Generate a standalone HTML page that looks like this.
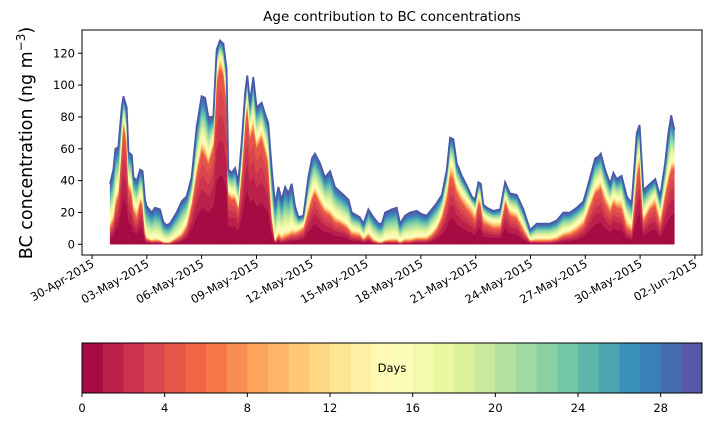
<!DOCTYPE html>
<html><head><meta charset="utf-8"><style>
body{margin:0;background:#fff}
svg{display:block;font-family:"DejaVu Sans","Liberation Sans",sans-serif}
</style></head><body>
<svg id="c" width="711" height="425" viewBox="0 0 711 425">
<text x="392" y="21" text-anchor="middle" font-size="13.5">Age contribution to BC concentrations</text>
<text transform="translate(32,143) rotate(-90)" text-anchor="middle" font-size="17.5">BC concentration (ng m<tspan dy="-7" font-size="12">−3</tspan><tspan dy="7">)</tspan></text>
<g id="layers"></g>
<rect x="82" y="30" width="620" height="225" fill="none" stroke="#000" stroke-width="1"/>
<g id="axes"></g>
<g id="cbar"></g>
</svg>
<script>
// days since 30-Apr-2015, total BC, cumulative up to age 14 d, cumulative up to age 5 d
const days=[0.99,1.17,1.28,1.44,1.62,1.72,1.90,2.0,2.18,2.27,2.45,2.63,2.77,2.90,2.99,3.27,3.45,3.72,3.90,4.08,4.27,4.63,4.91,5.18,5.45,5.73,6.0,6.19,6.37,6.64,6.82,7.0,7.19,7.37,7.46,7.65,7.83,8.01,8.2,8.38,8.5,8.65,8.83,9.01,9.29,9.47,9.65,9.84,10.02,10.2,10.38,10.57,10.75,10.93,11.11,11.3,11.57,11.84,12.04,12.2,12.48,12.75,13.03,13.3,13.58,13.86,14.04,14.22,14.66,14.86,15.13,15.40,15.68,15.86,16.04,16.41,16.68,16.86,17.14,17.41,17.77,18.05,18.32,18.6,18.87,19.15,19.42,19.6,19.78,19.96,20.24,20.51,20.79,20.97,21.15,21.28,21.42,21.61,21.97,22.34,22.61,22.88,23.25,23.61,23.98,24.34,25.07,25.44,25.8,26.17,26.53,26.9,27.17,27.54,27.72,27.85,28.08,28.36,28.54,28.72,28.99,29.27,29.54,29.82,29.97,30.18,30.55,30.83,31.1,31.37,31.55,31.7,31.88];
const total=[38,47,60,61,85,93,86,58,56,42,40,47,46,28,24,20,23,22,14,12,13,20,27,30,42,74,93,92,80,80,122,128,126,110,47,45,48,39,65,95,106,89,105,86,89,82,76,47,25,36,28,36,32,38,24,17,18,42,54,57,51,42,46,36,33,30,28,20,17,13,22,17,13,13,20,22,23,13,18,20,21,19,18,22,26,31,47,67,66,51,43,37,30,28,39,38,25,23,21,22,39,32,31,22,9,13,13,15,20,20,23,27,38,54,55,57,47,38,45,41,43,30,26,70,75,34,38,41,30,51,70,81,72];
const upTo14=[14,20,30,35,65,80,68,40,36,26,22,30,28,10,5,3,4,3,2,1.5,2,5,8,14,28,50,65,62,55,66,108,118,112,95,34,32,32,25,50,80,92,72,80,66,72,64,55,20,3,8,6,8,8,10,9,10,12,25,33,36,30,24,22,18,16,14,12,9,8,4,8,4,2,2,3,4,4,2,4,4,5,5,5,8,12,20,35,50,48,38,32,28,24,20,30,28,18,16,14,14,30,22,20,12,3,4,4,5,8,9,12,16,25,36,38,40,32,25,30,28,28,16,12,50,58,18,26,30,18,35,45,52,52];
const upTo5=[10,14,24,30,60,75,62,35,30,20,16,26,24,6,3,2,2,2,1,1,1,3,5,10,24,44,58,55,50,60,100,110,106,88,30,28,28,22,45,75,86,66,72,60,66,58,50,15,2,5,3,4,5,6,6,7,9,20,28,32,25,20,18,14,13,11,9,6,5,3,5,2,1,1,2,2,2,1,2,2,3,3,3,5,9,16,28,42,40,32,26,22,18,15,26,24,13,12,10,10,26,18,16,8,2,2,2,3,5,6,8,12,20,32,33,35,26,20,25,23,22,10,8,42,50,14,22,24,12,30,40,46,48];
const yTicks=[0,20,40,60,80,100,120];
const xTickDays=[0,3,6,9,12,15,18,21,24,27,30,33];
const xTickLabels=["30-Apr-2015","03-May-2015","06-May-2015","09-May-2015","12-May-2015","15-May-2015","18-May-2015","21-May-2015","24-May-2015","27-May-2015","30-May-2015","02-Jun-2015"];
const cbTicks=[0,4,8,12,16,20,24,28];
const nAges=30;

const X=d=>92+d*18.27, Y=v=>244.3-v*1.592;
const NS="http://www.w3.org/2000/svg";
const n=Math.min(days.length,total.length,upTo14.length,upTo5.length);
const spec=["#9e0142","#d53e4f","#f46d43","#fdae61","#fee08b","#ffffbf","#e6f598","#abdda4","#66c2a5","#3288bd","#5e4fa2"];
function hx(h){return [1,3,5].map(i=>parseInt(h.substr(i,2),16));}
function cmap(t){const p=t*10,i=Math.min(9,Math.floor(p)),f=p-i,a=hx(spec[i]),b=hx(spec[i+1]);
 return "rgb("+a.map((v,j)=>Math.round(v+(b[j]-v)*f)).join(",")+")";}
const youngSplit=[0,0.4,0.6,0.75,0.88,1];
function cum(i,k){const t=total[i],a=upTo14[i],b=upTo5[i];
 if(k<=5)return b*youngSplit[k]; if(k<=14)return b+(a-b)*(k-5)/9; return a+(t-a)*(k-14)/16;}
const L=document.getElementById("layers");
for(let k=0;k<nAges;k++){
 let pts=[];
 for(let i=0;i<n;i++)pts.push(X(days[i]).toFixed(1)+","+Y(cum(i,k+1)).toFixed(1));
 for(let i=n-1;i>=0;i--)pts.push(X(days[i]).toFixed(1)+","+Y(cum(i,k)).toFixed(1));
 const p=document.createElementNS(NS,"polygon");
 p.setAttribute("points",pts.join(" "));
 p.setAttribute("fill",cmap((k+0.5)/nAges));
 p.setAttribute("stroke",cmap((k+0.5)/nAges));p.setAttribute("stroke-width","0.4");
 
 
 L.appendChild(p);
}
const topLine=document.createElementNS(NS,"polyline");
topLine.setAttribute("points",days.slice(0,n).map((d,i)=>X(d).toFixed(1)+","+Y(total[i]).toFixed(1)).join(" "));
topLine.setAttribute("fill","none");topLine.setAttribute("stroke","#4a5aa6");topLine.setAttribute("stroke-width","1.8");


L.appendChild(topLine);

const A=document.getElementById("axes");
function el(tag,attrs,txt){const e=document.createElementNS(NS,tag);for(const k in attrs)e.setAttribute(k,attrs[k]);if(txt!=null)e.textContent=txt;return e;}
yTicks.forEach(v=>{
 const l=el("line",{x1:78,x2:82,y1:Y(v),y2:Y(v),stroke:"#000"});
 
 
 A.appendChild(l);
 const t=el("text",{x:75,y:Y(v)+4,"text-anchor":"end","font-size":"11.5"},String(v));
 
 
 A.appendChild(t);
});
xTickDays.forEach((d,i)=>{
 const x=X(d);
 const l=el("line",{x1:x,x2:x,y1:255,y2:259,stroke:"#000"});
 
 
 A.appendChild(l);
 const t=el("text",{transform:"translate("+(x+3)+",266) rotate(-30)","text-anchor":"end","font-size":"11.5"},xTickLabels[i]);
 
 
 A.appendChild(t);
});
const C=document.getElementById("cbar");
const cx0=82,cx1=702,cw=(cx1-cx0)/nAges;
for(let k=0;k<nAges;k++){
 const r=el("rect",{x:cx0+k*cw,y:343,width:cw+0.5,height:50,fill:cmap((k+0.5)/nAges)});
 
 
 C.appendChild(r);
}
const fr=el("rect",{x:cx0,y:343,width:cx1-cx0,height:50,fill:"none",stroke:"#000"});


C.appendChild(fr);
const dl=el("text",{x:392,y:372,"text-anchor":"middle","font-size":"11.5"},"Days");


C.appendChild(dl);
cbTicks.forEach(v=>{
 const x=cx0+v*cw;
 const l=el("line",{x1:x,x2:x,y1:393,y2:397,stroke:"#000"});
 
 
 C.appendChild(l);
 const t=el("text",{x:x,y:412,"text-anchor":"middle","font-size":"11.5"},String(v));
 
 
 C.appendChild(t);
});
</script>
</body></html>
